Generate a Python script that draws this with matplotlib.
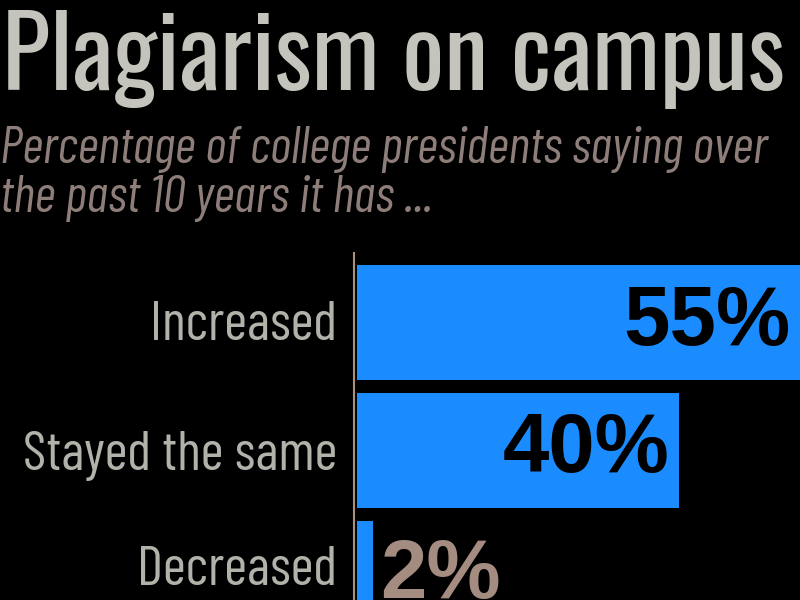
import matplotlib
matplotlib.use("Agg")
import matplotlib.pyplot as plt
from matplotlib import font_manager
from matplotlib.transforms import blended_transform_factory

categories = ["Increased", "Stayed the same", "Decreased"]
values = [55, 40, 2]
value_labels = ["55%", "40%", "2%"]
title = "Plagiarism on campus"
subtitle_lines = ["Percentage of college presidents saying over", "the past 10 years it has ..."]

names = {f.name for f in font_manager.fontManager.ttflist}


def pick(cands):
    for c in cands:
        if c in names:
            return c
    return "DejaVu Sans"


title_font = pick(["Oswald", "Barlow Condensed", "Archivo Narrow", "Liberation Sans"])
cond_font = pick(["Barlow Condensed", "Archivo Narrow", "Asap Condensed", "Liberation Sans"])
value_font = pick(["Liberation Sans", "DejaVu Sans"])

BG = "black"
BAR = "#1a8cff"

fig = plt.figure(figsize=(8, 6), dpi=100, facecolor=BG)
renderer = fig.canvas.get_renderer()


def fit_size(s, target_w, size, **kw):
    t = fig.text(0, 0, s, fontsize=size, **kw)
    w = t.get_window_extent(renderer=renderer).width
    t.remove()
    return size * target_w / w


ts = fit_size(title, 783, 80, family=title_font, fontweight=500)
fig.text(0.002, 0.85, title, fontsize=ts, family=title_font, fontweight=500,
         color="#c4c4bc", ha="left", va="baseline")
ss = fit_size(subtitle_lines[0], 768, 24, family=cond_font, style="italic")
fig.text(0.0, 0.728, subtitle_lines[0], fontsize=ss, family=cond_font,
         style="italic", color="#8e7e7a", ha="left", va="baseline")
fig.text(0.0, 0.647, subtitle_lines[1], fontsize=ss, family=cond_font,
         style="italic", color="#8e7e7a", ha="left", va="baseline")

ax = fig.add_axes([357 / 800, 0, 443 / 800, 347 / 600], facecolor=BG)
for s in ["top", "right", "bottom"]:
    ax.spines[s].set_visible(False)
ax.spines["left"].set_color("#a8927e")
ax.spines["left"].set_linewidth(1.5)
ax.spines["left"].set_position(("outward", 2))

ypos = list(range(len(categories)))
ax.barh(ypos, values, height=0.9, color=BAR)
ax.set_xlim(0, 55)
ax.set_ylim(2.168, -0.543)
ax.set_xticks([])
ax.set_yticks([])

ls = fit_size(categories[1], 315, 30, family=cond_font)
trans = blended_transform_factory(fig.transFigure, ax.transData)
label_offsets = [0.03, 0.04, -0.06]
for i, (cat, off) in enumerate(zip(categories, label_offsets)):
    ax.text(337 / 800, i + off, cat, transform=trans, ha="right", va="center",
            family=cond_font, fontsize=ls, color="#b2b2aa", clip_on=False)

for i, (v, lab) in enumerate(zip(values, value_labels)):
    if v > 10:
        ax.text(v - 1.2, i, lab, ha="right", va="center", fontsize=60,
                fontweight="bold", family=value_font, color="black")
    else:
        ax.text(v + 0.9, i - 0.02, lab, ha="left", va="center", fontsize=60,
                fontweight="bold", family=value_font, color="#a48c80")

fig.savefig("out.png", dpi=100, facecolor=BG)
